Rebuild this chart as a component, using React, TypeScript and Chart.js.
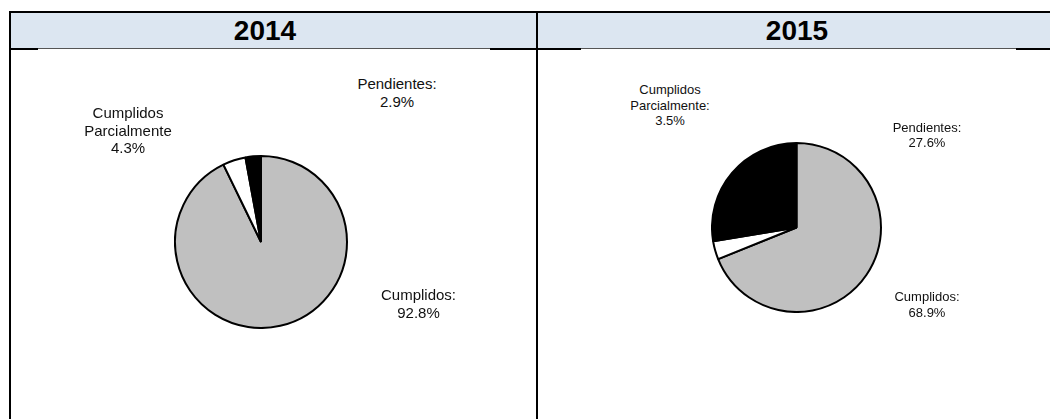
import React, { useEffect, useRef } from "react";
import { Chart, registerables } from "chart.js";

Chart.register(...registerables);

const categories = ["Cumplidos", "Cumplidos Parcialmente", "Pendientes"];
const values2014 = [92.8, 4.3, 2.9];
const values2015 = [68.9, 3.5, 27.6];
const labelNames2014 = [["Cumplidos:"], ["Cumplidos", "Parcialmente"], ["Pendientes:"]];
const labelNames2015 = [["Cumplidos:"], ["Cumplidos", "Parcialmente:"], ["Pendientes:"]];
const sliceColors = ["#c0c0c0", "#ffffff", "#000000"];

const FONT = "'Liberation Sans', Arial, Helvetica, sans-serif";

type LabelPos = { cx: number; top: number };

const labelPos2014: LabelPos[] = [
  { cx: 418.5, top: 286 },
  { cx: 128, top: 104 },
  { cx: 397, top: 75 },
];
const labelPos2015: LabelPos[] = [
  { cx: 927, top: 289 },
  { cx: 670, top: 82 },
  { cx: 927, top: 119.5 },
];

function Pie(props: { values: number[]; left: number; top: number; size: number }) {
  const ref = useRef<HTMLCanvasElement | null>(null);
  useEffect(() => {
    if (!ref.current) return;
    const chart = new Chart(ref.current, {
      type: "pie",
      data: {
        labels: categories,
        datasets: [
          {
            data: props.values,
            backgroundColor: sliceColors,
            borderColor: "#000000",
            borderWidth: 2,
          },
        ],
      },
      options: {
        animation: false,
        responsive: false,
        maintainAspectRatio: false,
        plugins: { legend: { display: false }, tooltip: { enabled: false } },
        layout: { padding: 0 },
      },
    });
    return () => chart.destroy();
  }, []);
  return (
    <div style={{ position: "absolute", left: props.left, top: props.top, width: props.size, height: props.size }}>
      <canvas ref={ref} width={props.size} height={props.size} style={{ width: props.size, height: props.size }} />
    </div>
  );
}

function Labels(props: { names: string[][]; values: number[]; pos: LabelPos[]; fontSize: number; lineHeight: number }) {
  return (
    <>
      {props.values.map((v, i) => {
        const lines = [...props.names[i], `${v.toFixed(1)}%`];
        return (
          <div
            key={i}
            style={{
              position: "absolute",
              left: props.pos[i].cx - 100,
              top: props.pos[i].top,
              width: 200,
              textAlign: "center",
              fontFamily: FONT,
              fontSize: props.fontSize,
              lineHeight: `${props.lineHeight}px`,
              color: "#111",
              whiteSpace: "nowrap",
            }}
          >
            {lines.map((l, j) => (
              <div key={j}>{l}</div>
            ))}
          </div>
        );
      })}
    </>
  );
}

export default function App() {
  const abs = (s: React.CSSProperties): React.CSSProperties => ({ position: "absolute", ...s });
  return (
    <div style={abs({ left: 0, top: 0, width: 1050, height: 419, background: "#fff", overflow: "hidden" })}>
      {/* header band */}
      <div style={abs({ left: 9, top: 12, width: 1041, height: 37, background: "#dce6f1" })} />
      {/* top border */}
      <div style={abs({ left: 9, top: 11, width: 1041, height: 2, background: "#000" })} />
      {/* header bottom border */}
      <div style={abs({ left: 9, top: 48, width: 1041, height: 2, background: "#000" })} />
      {/* chart image edges overlapping */}
      <div style={abs({ left: 38, top: 48, width: 452, height: 1, background: "#555" })} />
      <div style={abs({ left: 38, top: 49, width: 452, height: 1, background: "#fff" })} />
      <div style={abs({ left: 581, top: 48, width: 435, height: 1, background: "#555" })} />
      <div style={abs({ left: 581, top: 49, width: 435, height: 1, background: "#fff" })} />
      {/* vertical borders */}
      <div style={abs({ left: 9, top: 11, width: 2, height: 408, background: "#000" })} />
      <div style={abs({ left: 536, top: 11, width: 2, height: 408, background: "#000" })} />
      {/* header texts */}
      <div style={abs({ left: 165, top: 14, width: 200, height: 34, textAlign: "center", fontFamily: FONT, fontWeight: "bold", fontSize: 28, lineHeight: "34px", color: "#000" })}>2014</div>
      <div style={abs({ left: 697, top: 14, width: 200, height: 34, textAlign: "center", fontFamily: FONT, fontWeight: "bold", fontSize: 28, lineHeight: "34px", color: "#000" })}>2015</div>

      <Pie values={values2014} left={174} top={155} size={174} />
      <Pie values={values2015} left={711} top={142} size={171} />

      <Labels names={labelNames2014} values={values2014} pos={labelPos2014} fontSize={15} lineHeight={17.5} />
      <Labels names={labelNames2015} values={values2015} pos={labelPos2015} fontSize={13} lineHeight={15.5} />
    </div>
  );
}
